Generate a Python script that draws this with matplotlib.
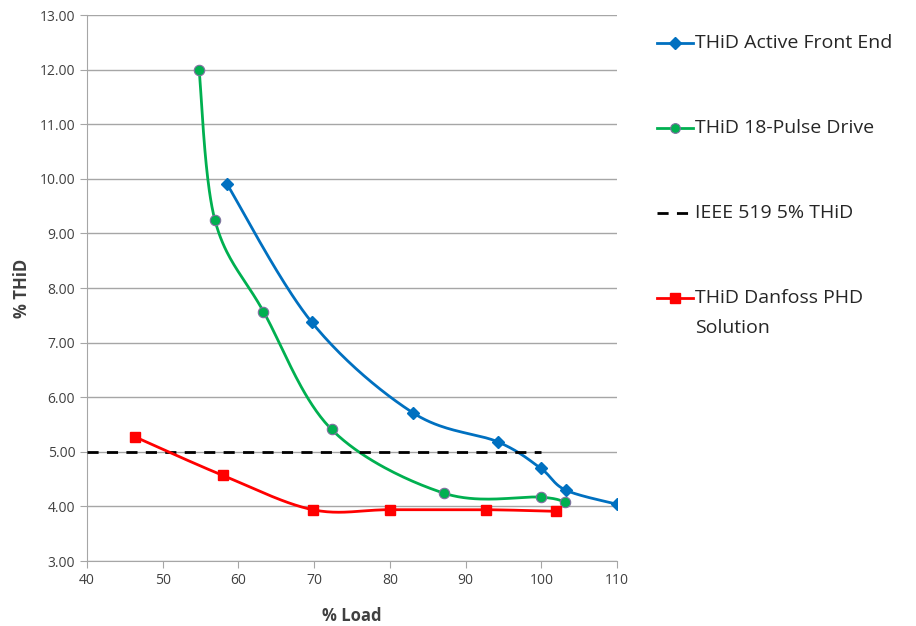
import numpy as np
import matplotlib
matplotlib.use('Agg')
import matplotlib.pyplot as plt
from matplotlib.lines import Line2D

plt.rcParams['font.family'] = ['Open Sans', 'DejaVu Sans']

# data
afe_load = [58.5, 69.7, 83.1, 94.3, 99.9, 103.2, 110.0]
afe_thid = [9.90, 7.37, 5.71, 5.18, 4.70, 4.30, 4.04]

pulse_load = [54.8, 56.9, 63.3, 72.3, 87.2, 99.9, 103.1]
pulse_thid = [12.00, 9.24, 7.57, 5.41, 4.24, 4.17, 4.08]

phd_load = [46.4, 57.9, 69.8, 80.0, 92.7, 102.0]
phd_thid = [5.27, 4.57, 3.94, 3.94, 3.94, 3.91]

ieee_load = [40, 100]
ieee_thid = [5.0, 5.0]

labels = ['THiD Active Front End', 'THiD 18-Pulse Drive',
          'IEEE 519 5% THiD', 'THiD Danfoss PHD\nSolution']

xmin, xmax, ymin, ymax = 40, 110, 3, 13

fig = plt.figure(figsize=(9.16, 6.26), dpi=100)
ax = fig.add_axes([0.095, 0.1038, 0.5786, 0.8722])

# pixel scale of the axes so the smoothing is done in screen space like Excel
sx = 530.0 / (xmax - xmin)
sy = 546.0 / (ymax - ymin)


def smooth(xs, ys, n=40):
    # Catmull-Rom style bezier through the points
    p = np.column_stack([np.asarray(xs) * sx, np.asarray(ys) * sy])
    out = [p[0]]
    for i in range(len(p) - 1):
        p0 = p[i - 1] if i > 0 else p[i]
        p1, p2 = p[i], p[i + 1]
        p3 = p[i + 2] if i + 2 < len(p) else p[i + 1]
        c1 = p1 + (p2 - p0) / 6.0
        c2 = p2 - (p3 - p1) / 6.0
        t = np.linspace(0, 1, n)[1:, None]
        seg = ((1 - t) ** 3 * p1 + 3 * (1 - t) ** 2 * t * c1
               + 3 * (1 - t) * t ** 2 * c2 + t ** 3 * p2)
        out.extend(seg)
    out = np.array(out)
    return out[:, 0] / sx, out[:, 1] / sy


blue = '#0070C0'
green = '#00B050'
red = '#FF0000'

bx, by = smooth(afe_load, afe_thid)
ax.plot(bx, by, color=blue, lw=2, zorder=3)
ax.plot(afe_load, afe_thid, 'D', color=blue, ms=6.5, zorder=4)

gx, gy = smooth(pulse_load, pulse_thid)
ax.plot(gx, gy, color=green, lw=2, zorder=3)
ax.plot(pulse_load, pulse_thid, 'o', color=green, mec='#8070a0', mew=0.8,
        ms=7.5, zorder=4)

ax.plot(ieee_load, ieee_thid, color='black', lw=2, ls=(0, (4, 3)), zorder=3)

rx, ry = smooth(phd_load, phd_thid)
ax.plot(rx, ry, color=red, lw=2, zorder=3)
ax.plot(phd_load, phd_thid, 's', color=red, ms=7.5, zorder=4)

ax.set_xlim(xmin, xmax)
ax.set_ylim(ymin, ymax)
ax.set_xticks(np.arange(40, 111, 10))
ax.set_yticks(np.arange(3, 13.01, 1))
ax.set_yticklabels([f'{v:.2f}' for v in np.arange(3, 13.01, 1)])
ax.yaxis.grid(True, color='#a6a6a6', lw=1)
ax.set_axisbelow(True)
for s in ['top', 'right']:
    ax.spines[s].set_visible(False)
for s in ['left', 'bottom']:
    ax.spines[s].set_color('#a6a6a6')
ax.tick_params(colors='#a6a6a6', labelcolor='#404040', labelsize=10,
               length=5, direction='out')
ax.set_xlabel('% Load', fontsize=12, fontweight='bold', color='#404040',
              labelpad=14)
ax.set_ylabel('% THiD', fontsize=12, fontweight='bold', color='#404040',
              labelpad=6)

# legend drawn by hand so the two-line label lines up like Excel
W, H = 916.0, 626.0
leg_y = [43, 128, 213, 298]
handles = [
    dict(color=blue, marker='D', ms=6, ls='-'),
    dict(color=green, marker='o', ms=7, ls='-', mec='#8070a0', mew=0.8),
    dict(color='black', marker='None', ls=(0, (4, 3))),
    dict(color=red, marker='s', ms=7, ls='-'),
]
for y, lab, h in zip(leg_y, labels, handles):
    yf = 1 - y / H
    fig.add_artist(Line2D([657 / W, 675 / W, 693 / W], [yf, yf, yf], lw=2,
                          transform=fig.transFigure, markevery=[1], **h))
    for k, line in enumerate(lab.split('\n')):
        fig.text(695 / W, yf - k * 30 / H, line, fontsize=14,
                 color='#262626', va='center', transform=fig.transFigure)

fig.savefig('out.png', dpi=100)
